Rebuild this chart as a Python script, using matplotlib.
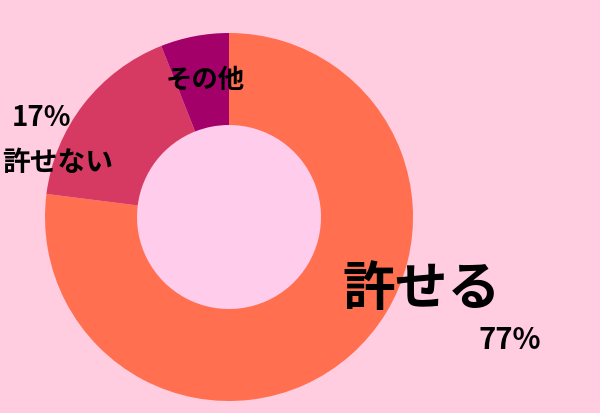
import matplotlib.pyplot as plt

plt.rcParams['font.family'] = ['Noto Sans CJK JP', 'DejaVu Sans']

# share of answers
labels = ['許せる', '許せない', 'その他']
values = [77, 17, 6]
colors = ['#FF6F50', '#D63A62', '#A3006A']

fig = plt.figure(figsize=(6, 4.13), dpi=100)
fig.patch.set_facecolor('#FFCCE0')
ax = fig.add_axes([0, 0, 1, 1])

cx, cy, r = 229, 196, 184
ax.pie(values, colors=colors, startangle=90, counterclock=False,
       center=(cx, cy), radius=r, frame=True,
       wedgeprops=dict(width=r * 0.5, linewidth=0))
ax.add_patch(plt.Circle((cx, cy), r * 0.5, color='#FFCDEB', zorder=0))
ax.set_xlim(0, 600)
ax.set_ylim(0, 413)
ax.set_aspect('equal')
ax.axis('off')

# labels
ax.text(422, 123, labels[0], fontsize=38, fontweight='bold', ha='center', va='center')
ax.text(510, 73, f'{values[0]}%', fontsize=21, fontweight='bold', ha='center', va='center')
ax.text(41, 295, f'{values[1]}%', fontsize=20, fontweight='bold', ha='center', va='center')
ax.text(58, 250, labels[1], fontsize=20, fontweight='bold', ha='center', va='center')
ax.text(205, 333, labels[2], fontsize=19, fontweight='bold', ha='center', va='center')

fig.savefig('out.png', dpi=100, facecolor=fig.get_facecolor())
